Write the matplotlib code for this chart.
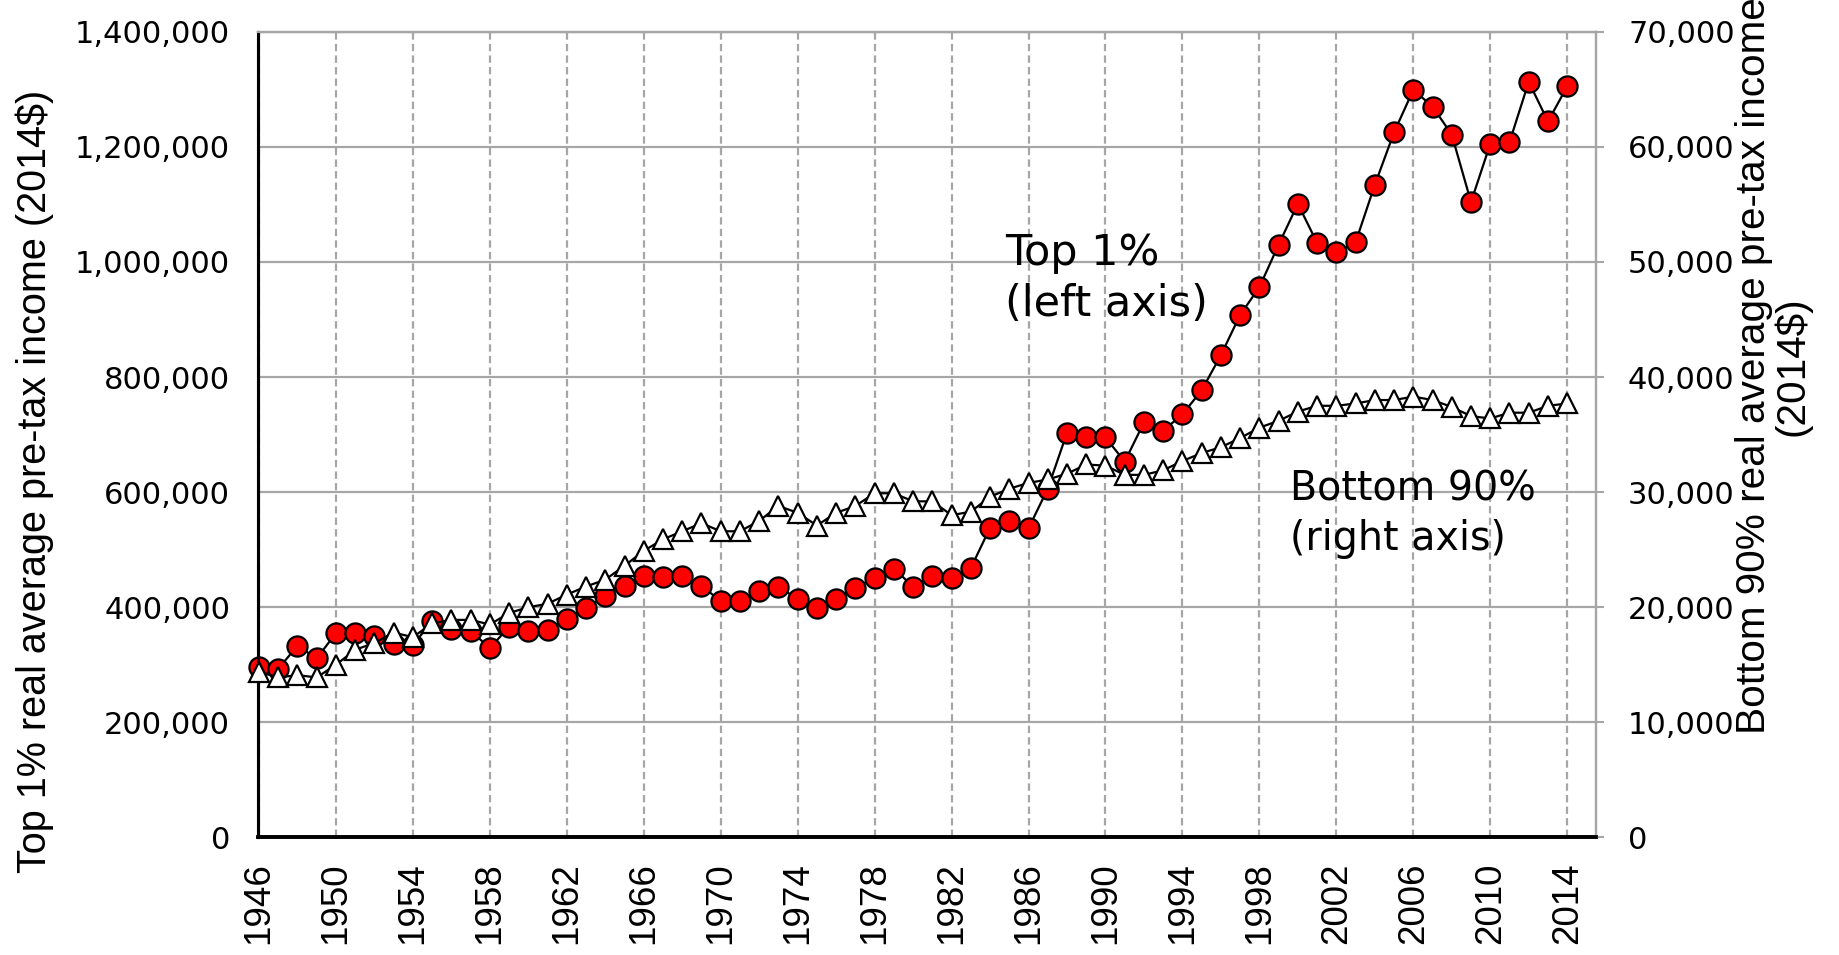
import matplotlib
matplotlib.use("agg")
import matplotlib.pyplot as plt
from matplotlib.ticker import FuncFormatter
import numpy as np

years = list(range(1946, 2015))

# top 1% average pre-tax income, thousands of 2014$
top1_k = [297, 293, 333, 311, 355, 355, 350, 336, 334, 376,
          362, 359, 329, 366, 359, 360, 380, 398, 420, 437,
          455, 452, 455, 437, 411, 410, 428, 436, 414, 398,
          414, 434, 451, 467, 436, 455, 451, 468, 538, 550,
          537, 606, 703, 695, 695, 653, 721, 707, 735, 777,
          838, 908, 956, 1030, 1101, 1033, 1017, 1034, 1134, 1225,
          1299, 1270, 1221, 1104, 1205, 1208, 1313, 1244, 1305]

# bottom 90% average pre-tax income, thousands of 2014$
bottom90_k = [14.4, 13.9, 14.1, 13.9, 15.0, 16.3, 16.9, 17.8, 17.4, 18.6,
              18.9, 18.9, 18.5, 19.5, 20.0, 20.3, 21.1, 21.8, 22.4, 23.6,
              24.9, 25.9, 26.6, 27.3, 26.6, 26.6, 27.5, 28.8, 28.2, 27.1,
              28.2, 28.8, 29.9, 29.9, 29.2, 29.2, 28.0, 28.3, 29.6, 30.3,
              30.8, 31.1, 31.6, 32.4, 32.3, 31.5, 31.5, 31.9, 32.7, 33.4,
              33.9, 34.7, 35.6, 36.2, 37.0, 37.5, 37.5, 37.7, 38.0, 38.0,
              38.3, 38.0, 37.4, 36.6, 36.4, 36.9, 36.9, 37.5, 37.7]

year_ticks = list(range(1946, 2015, 4))
left_ticks = [0, 200000, 400000, 600000, 800000, 1000000, 1200000, 1400000]
right_ticks = [0, 10000, 20000, 30000, 40000, 50000, 60000, 70000]

top1 = np.array(top1_k) * 1000
bottom90 = np.array(bottom90_k) * 1000

grey = "#A6A6A6"
wide = "DejaVu Sans"
narrow = "Liberation Sans"

fig = plt.figure(figsize=(18.39, 9.55), dpi=100)
fig.subplots_adjust(left=0.1403, right=0.8679, bottom=0.1231, top=0.9668)
ax = fig.add_subplot(111)
ax2 = ax.twinx()

ax.plot(years, top1, color="black", lw=1.6, marker="o", ms=14.5,
        mfc="#FF0000", mec="black", mew=1.6, zorder=3, clip_on=False)
ax2.plot(years, bottom90, color="black", lw=1.6, marker="^", ms=15,
         mfc="white", mec="black", mew=1.6, zorder=3, clip_on=False)

ax.set_xlim(1945.95, 2015.5)
ax.set_ylim(0, 1400000)
ax2.set_ylim(0, 70000)

ax.set_yticks(left_ticks)
ax2.set_yticks(right_ticks)
ax.set_xticks(year_ticks)
fmt = FuncFormatter(lambda v, p: "{:,.0f}".format(v))
ax.yaxis.set_major_formatter(fmt)
ax2.yaxis.set_major_formatter(fmt)

ax.tick_params(axis="y", length=0, pad=20, labelsize=22, labelfontfamily=wide)
ax.tick_params(axis="x", length=0, pad=18, labelsize=26.5,
               labelfontfamily=narrow, labelrotation=90)
ax2.tick_params(axis="y", length=6, width=1.5, color=grey, pad=17,
                labelsize=22, labelfontfamily=wide)

ax.grid(axis="y", color=grey, lw=1.6, ls="-", zorder=0)
ax.grid(axis="x", color=grey, lw=1.6, ls=(0, (3.3, 1.9)), zorder=0)
ax.set_axisbelow(True)

for a in (ax, ax2):
    a.spines["top"].set_color(grey)
    a.spines["top"].set_linewidth(1.6)
    a.spines["right"].set_color(grey)
    a.spines["right"].set_linewidth(1.6)
    a.spines["left"].set_color("black")
    a.spines["left"].set_linewidth(2.2)
    a.spines["bottom"].set_color("black")
    a.spines["bottom"].set_linewidth(2.6)

fig.text(0.019, 0.4963, "Top 1% real average pre-tax income (2014$)",
         rotation=90, ha="center", va="center", family=narrow, fontsize=28.5)
fig.text(0.964, 0.617, "Bottom 90% real average pre-tax income\n(2014$)",
         rotation=90, ha="center", va="center", multialignment="center",
         family=narrow, fontsize=29.2, linespacing=1.0)

ax.text(0.558, 0.752, "Top 1%\n(left axis)", transform=ax.transAxes,
        ha="left", va="top", family=wide, fontsize=31, linespacing=1.3)
ax.text(0.7715, 0.457, "Bottom 90%\n(right axis)", transform=ax.transAxes,
        ha="left", va="top", family=wide, fontsize=28.5, linespacing=1.3)

fig.savefig("out.png", dpi=100)
